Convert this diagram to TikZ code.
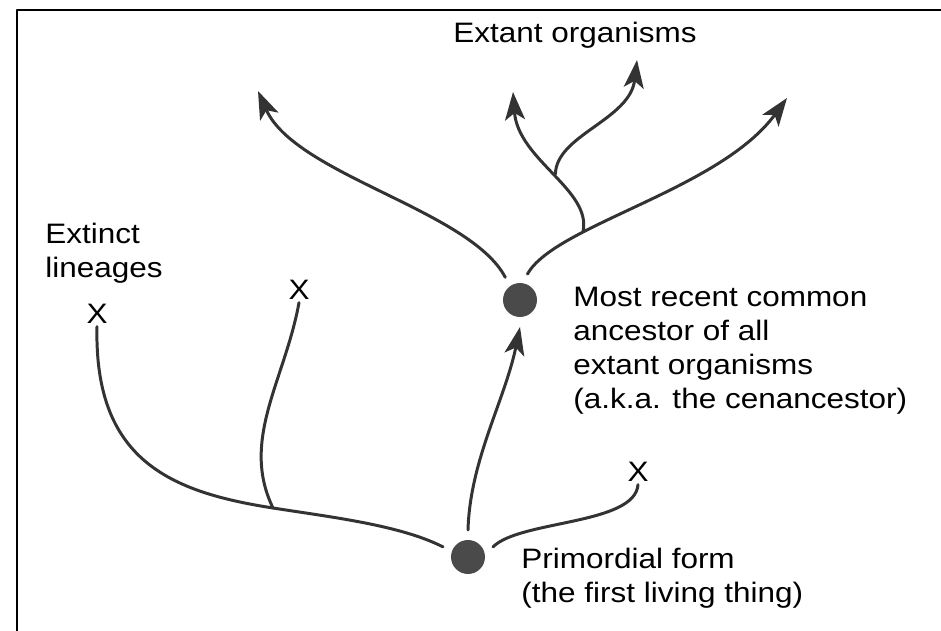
\documentclass[tikz,border=0pt]{standalone}
\usepackage{fontspec}
\setmainfont{Liberation Sans}[FakeStretch=1.12]
\usetikzlibrary{arrows.meta}
\definecolor{branch}{HTML}{333333}
\definecolor{dotgray}{HTML}{4A4A4A}
\begin{document}
\begin{tikzpicture}[x=0.02cm, y=-0.02cm, font=\fontsize{16}{19.5}\selectfont, line join=round, line cap=round,
	branchline/.style={draw=branch, line width=1.7pt},
	arrowend/.style={-{Stealth[length=0.56cm, width=0.4cm, inset=0.14cm]}},
	ancdot/.style={circle, fill=dotgray, minimum size=0.68cm, inner sep=0pt, outer sep=0.2cm},
	xmark/.style={inner sep=1.5pt},
	note/.style={anchor=base west, align=left, inner sep=0pt}]
				\useasboundingbox (0,0) rectangle (941,631);
				\draw[line width=1.7pt] (17,640) -- (17,10) -- (950,10);
				% ancestors and dead ends
				\node[ancdot] (mrca) at (520,300) {};
				\node[ancdot] (prim) at (468,557) {};
				\node[xmark] (x1) at (97,314) {X};
				\node[xmark] (x2) at (299,290) {X};
				\node[xmark] (x3) at (638,472) {X};
				\coordinate (jl) at (273,508);
				\coordinate (t1) at (258,91);
				\coordinate (t2) at (513,92);
				\coordinate (t3) at (637,60);
				\coordinate (t4) at (787,98);
				% labels (base = last line)
				\node[note] (extant) at (453,43) {Extant organisms};
				\node[note] (extinct) at (45,278) {Extinct\\lineages};
				\node[note] (mrcatext) at (573,409) {Most recent common\\ancestor of all\\extant organisms\\(a.k.a. the cenancestor)};
				\node[note] (primtext) at (521,603) {Primordial form\\(the first living thing)};
				% lower tree
				\draw[branchline] (prim.158) .. controls (400,525) and (330,517) .. (jl);
				\draw[branchline] (jl) .. controls (170,492) and (94,460) .. (x1.south);
				\draw[branchline] (jl) .. controls (240,440) and (285,380) .. (x2.south);
				\draw[branchline] (prim.22) .. controls (520,520) and (635,525) .. (x3.south);
				\draw[branchline, arrowend] (prim.90) .. controls (470,460) and (505,400) .. (mrca.270);
				% upper tree
				\draw[branchline, arrowend] (mrca.123) .. controls (470,210) and (295,175) .. (t1);
				\draw[branchline, arrowend] (mrca.74) .. controls (555,225) and (720,190) .. (t4) coordinate[pos=0.3] (jr);
				\draw[branchline, arrowend] (jr) .. controls (592,190) and (518,160) .. (t2) coordinate[pos=0.48] (jm);
				\draw[branchline, arrowend] (jm) .. controls (556,135) and (630,120) .. (t3);
			\end{tikzpicture}
\end{document}
